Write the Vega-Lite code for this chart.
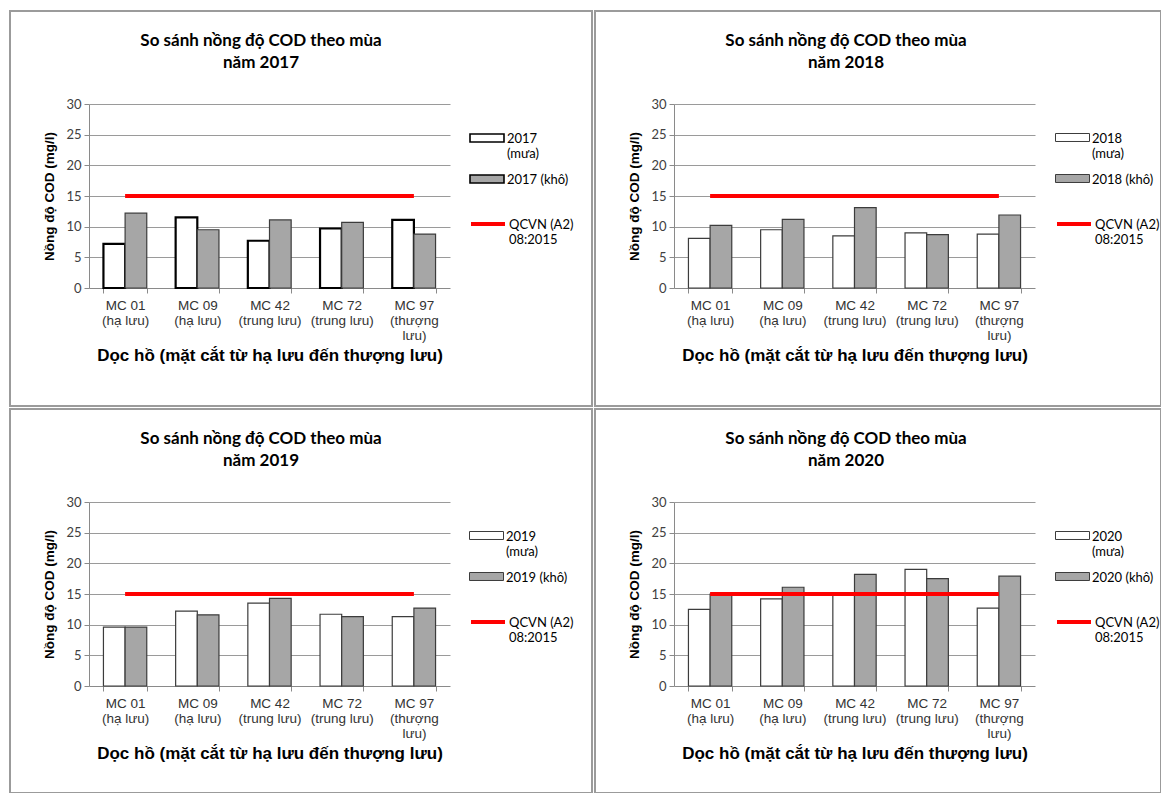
{
  "$schema": "https://vega.github.io/schema/vega-lite/v6.json",
  "background": "white",
  "padding": {"left": 9, "top": 10, "right": 0, "bottom": 0},
  "config": {
    "concat": {"spacing": 1},
    "title": {"font": "Lato", "fontSize": 17, "fontWeight": "bold", "color": "black", "anchor": "middle", "frame": "group", "offset": 0, "dx": -40, "dy": 65, "lineHeight": 22},
    "axisX": {
      "tickBand": "extent", "labelAngle": 0, "grid": false,
      "labelFont": "Liberation Sans", "labelFontSize": 13.5, "labelColor": "#333333", "labelLineHeight": 15, "labelPadding": 5,
      "tickColor": "#8a8a8a", "tickSize": 5, "domainColor": "#8a8a8a",
      "titleFont": "Liberation Sans", "titleFontSize": 17, "titleFontWeight": "bold", "titleColor": "black", "titlePadding": 6
    },
    "axisY": {
      "gridColor": "#9a9a9a", "domainColor": "#8a8a8a", "tickColor": "#8a8a8a", "tickSize": 5,
      "labelFont": "Lato", "labelFontSize": 13, "labelColor": "#404040", "labelPadding": 3,
      "titleFont": "Liberation Sans", "titleFontSize": 13.5, "titleFontWeight": "bold", "titleColor": "black", "titlePadding": 9
    },
    "legend": {
      "orient": "none", "title": null, "labelFont": "Lato", "labelFontSize": 13, "labelColor": "black", "labelLimit": 200, "labelBaseline": "alphabetic", "labelOffset": 2, "rowPadding": 0
    }
  },
  "datasets": {
    "cod": [
      {"year": 2017, "site": "MC 01 (hạ lưu)", "season": "mưa", "value": 7.2},
      {"year": 2017, "site": "MC 09 (hạ lưu)", "season": "mưa", "value": 11.5},
      {"year": 2017, "site": "MC 42 (trung lưu)", "season": "mưa", "value": 7.7},
      {"year": 2017, "site": "MC 72 (trung lưu)", "season": "mưa", "value": 9.7},
      {"year": 2017, "site": "MC 97 (thượng lưu)", "season": "mưa", "value": 11.1},
      {"year": 2017, "site": "MC 01 (hạ lưu)", "season": "khô", "value": 12.2},
      {"year": 2017, "site": "MC 09 (hạ lưu)", "season": "khô", "value": 9.5},
      {"year": 2017, "site": "MC 42 (trung lưu)", "season": "khô", "value": 11.1},
      {"year": 2017, "site": "MC 72 (trung lưu)", "season": "khô", "value": 10.7},
      {"year": 2017, "site": "MC 97 (thượng lưu)", "season": "khô", "value": 8.8},
      {"year": 2018, "site": "MC 01 (hạ lưu)", "season": "mưa", "value": 8.1},
      {"year": 2018, "site": "MC 09 (hạ lưu)", "season": "mưa", "value": 9.5},
      {"year": 2018, "site": "MC 42 (trung lưu)", "season": "mưa", "value": 8.5},
      {"year": 2018, "site": "MC 72 (trung lưu)", "season": "mưa", "value": 9.0},
      {"year": 2018, "site": "MC 97 (thượng lưu)", "season": "mưa", "value": 8.8},
      {"year": 2018, "site": "MC 01 (hạ lưu)", "season": "khô", "value": 10.2},
      {"year": 2018, "site": "MC 09 (hạ lưu)", "season": "khô", "value": 11.2},
      {"year": 2018, "site": "MC 42 (trung lưu)", "season": "khô", "value": 13.1},
      {"year": 2018, "site": "MC 72 (trung lưu)", "season": "khô", "value": 8.7},
      {"year": 2018, "site": "MC 97 (thượng lưu)", "season": "khô", "value": 11.9},
      {"year": 2019, "site": "MC 01 (hạ lưu)", "season": "mưa", "value": 9.6},
      {"year": 2019, "site": "MC 09 (hạ lưu)", "season": "mưa", "value": 12.2},
      {"year": 2019, "site": "MC 42 (trung lưu)", "season": "mưa", "value": 13.5},
      {"year": 2019, "site": "MC 72 (trung lưu)", "season": "mưa", "value": 11.7},
      {"year": 2019, "site": "MC 97 (thượng lưu)", "season": "mưa", "value": 11.3},
      {"year": 2019, "site": "MC 01 (hạ lưu)", "season": "khô", "value": 9.6},
      {"year": 2019, "site": "MC 09 (hạ lưu)", "season": "khô", "value": 11.6},
      {"year": 2019, "site": "MC 42 (trung lưu)", "season": "khô", "value": 14.3},
      {"year": 2019, "site": "MC 72 (trung lưu)", "season": "khô", "value": 11.3},
      {"year": 2019, "site": "MC 97 (thượng lưu)", "season": "khô", "value": 12.7},
      {"year": 2020, "site": "MC 01 (hạ lưu)", "season": "mưa", "value": 12.5},
      {"year": 2020, "site": "MC 09 (hạ lưu)", "season": "mưa", "value": 14.2},
      {"year": 2020, "site": "MC 42 (trung lưu)", "season": "mưa", "value": 15.0},
      {"year": 2020, "site": "MC 72 (trung lưu)", "season": "mưa", "value": 19.0},
      {"year": 2020, "site": "MC 97 (thượng lưu)", "season": "mưa", "value": 12.7},
      {"year": 2020, "site": "MC 01 (hạ lưu)", "season": "khô", "value": 15.0},
      {"year": 2020, "site": "MC 09 (hạ lưu)", "season": "khô", "value": 16.1},
      {"year": 2020, "site": "MC 42 (trung lưu)", "season": "khô", "value": 18.2},
      {"year": 2020, "site": "MC 72 (trung lưu)", "season": "khô", "value": 17.5},
      {"year": 2020, "site": "MC 97 (thượng lưu)", "season": "khô", "value": 17.9}
    ],
    "limit": [
      {"series": "QCVN (A2) 08:2015", "site": "MC 01 (hạ lưu)", "value": 15},
      {"series": "QCVN (A2) 08:2015", "site": "MC 09 (hạ lưu)", "value": 15},
      {"series": "QCVN (A2) 08:2015", "site": "MC 42 (trung lưu)", "value": 15},
      {"series": "QCVN (A2) 08:2015", "site": "MC 72 (trung lưu)", "value": 15},
      {"series": "QCVN (A2) 08:2015", "site": "MC 97 (thượng lưu)", "value": 15}
    ]
  },
  "resolve": {"scale": {"fill": "independent", "stroke": "independent"}, "legend": {"fill": "independent", "stroke": "independent"}},
  "vconcat": [
    {
      "resolve": {"scale": {"fill": "independent", "stroke": "independent"}, "legend": {"fill": "independent", "stroke": "independent"}},
      "hconcat": [
        {
          "width": 582, "height": 395,
          "view": {"fill": "white", "stroke": "#9b9b9b", "strokeWidth": 2},
          "title": {"text": ["So sánh nồng độ COD theo mùa", "năm 2017"]},
          "resolve": {"axis": {"y": "independent"}},
          "layer": [
            {
              "data": {"name": "cod"},
              "transform": [{"filter": "datum.year == 2017"}],
              "mark": {"type": "bar"},
              "encoding": {
                "x": {"field": "site", "type": "nominal", "sort": null,
                  "scale": {"domain": ["MC 01 (hạ lưu)", "MC 09 (hạ lưu)", "MC 42 (trung lưu)", "MC 72 (trung lưu)", "MC 97 (thượng lưu)"], "range": [79, 440], "paddingInner": 0.4, "paddingOuter": 0.2},
                  "axis": {"title": "Dọc hồ (mặt cắt từ hạ lưu đến thượng lưu)", "offset": -118,
                    "labelExpr": "datum.label == 'MC 97 (thượng lưu)' ? ['MC 97', '(thượng', 'lưu)'] : [substring(datum.label, 0, 5), substring(datum.label, 6)]"}},
                "xOffset": {"field": "season", "type": "nominal", "sort": ["mưa", "khô"], "scale": {"paddingInner": 0}},
                "y": {"field": "value", "type": "quantitative", "scale": {"domain": [0, 30], "range": [277, 93], "nice": false},
                  "axis": {"title": "Nồng độ COD (mg/l)", "orient": "left", "offset": -79, "grid": false, "values": [0, 5, 10, 15, 20, 25, 30]}},
                "fill": {"field": "season", "type": "nominal", "sort": ["mưa", "khô"],
                  "scale": {"domain": ["mưa", "khô"], "range": ["white", "#a6a6a6"]},
                  "legend": {"legendX": 459, "legendY": 109, "symbolType": "M-1,-0.235H1V0.235H-1Z", "symbolSize": 1156, "symbolStrokeColor": "black", "symbolStrokeWidth": 1.6,
                    "labelExpr": "datum.value == 'mưa' ? ['2017', '(mưa)'] : '2017 (khô)'",
                    "encode": {"labels": {"update": {"dy": {"value": 5}}}}}},
                "stroke": {"condition": {"test": "datum.season == 'mưa'", "value": "black"}, "value": "#3c3c3c"},
                "strokeWidth": {"condition": {"test": "datum.season == 'mưa'", "value": 2.2}, "value": 1.2}
              }
            },
            {
              "data": {"name": "limit"},
              "mark": {"type": "line", "strokeWidth": 3.8},
              "encoding": {
                "x": {"field": "site", "type": "nominal", "sort": null},
                "y": {"field": "value", "type": "quantitative",
                  "axis": {"title": null, "orient": "left", "offset": 0, "grid": true, "labels": false, "ticks": false, "domain": false, "values": [5, 10, 15, 20, 25, 30]}},
                "stroke": {"field": "series", "type": "nominal", "scale": {"range": ["#ff0000"]},
                  "legend": {"legendX": 459, "legendY": 194, "symbolType": "stroke", "symbolSize": 1156, "symbolStrokeWidth": 3.8,
                    "labelExpr": "['QCVN (A2)', '08:2015']",
                    "encode": {"labels": {"update": {"dy": {"value": 5}}}}}}
              }
            }
          ]
        },
        {
          "width": 566, "height": 395,
          "view": {"fill": "white", "stroke": "#9b9b9b", "strokeWidth": 2},
          "title": {"text": ["So sánh nồng độ COD theo mùa", "năm 2018"], "dx": -32},
          "resolve": {"axis": {"y": "independent"}},
          "layer": [
            {
              "data": {"name": "cod"},
              "transform": [{"filter": "datum.year == 2018"}],
              "mark": {"type": "bar"},
              "encoding": {
                "x": {"field": "site", "type": "nominal", "sort": null,
                  "scale": {"domain": ["MC 01 (hạ lưu)", "MC 09 (hạ lưu)", "MC 42 (trung lưu)", "MC 72 (trung lưu)", "MC 97 (thượng lưu)"], "range": [79, 440], "paddingInner": 0.4, "paddingOuter": 0.2},
                  "axis": {"title": "Dọc hồ (mặt cắt từ hạ lưu đến thượng lưu)", "offset": -118,
                    "labelExpr": "datum.label == 'MC 97 (thượng lưu)' ? ['MC 97', '(thượng', 'lưu)'] : [substring(datum.label, 0, 5), substring(datum.label, 6)]"}},
                "xOffset": {"field": "season", "type": "nominal", "sort": ["mưa", "khô"], "scale": {"paddingInner": 0}},
                "y": {"field": "value", "type": "quantitative", "scale": {"domain": [0, 30], "range": [277, 93], "nice": false},
                  "axis": {"title": "Nồng độ COD (mg/l)", "orient": "left", "offset": -79, "grid": false, "values": [0, 5, 10, 15, 20, 25, 30]}},
                "fill": {"field": "season", "type": "nominal", "sort": ["mưa", "khô"],
                  "scale": {"domain": ["mưa", "khô"], "range": ["white", "#a6a6a6"]},
                  "legend": {"legendX": 460, "legendY": 109, "symbolType": "M-1,-0.235H1V0.235H-1Z", "symbolSize": 1156, "symbolStrokeColor": "#3c3c3c", "symbolStrokeWidth": 1,
                    "labelExpr": "datum.value == 'mưa' ? ['2018', '(mưa)'] : '2018 (khô)'",
                    "encode": {"labels": {"update": {"dy": {"value": 5}}}}}},
                "stroke": {"value": "#3c3c3c"},
                "strokeWidth": {"value": 1.2}
              }
            },
            {
              "data": {"name": "limit"},
              "mark": {"type": "line", "strokeWidth": 3.8},
              "encoding": {
                "x": {"field": "site", "type": "nominal", "sort": null},
                "y": {"field": "value", "type": "quantitative",
                  "axis": {"title": null, "orient": "left", "offset": 0, "grid": true, "labels": false, "ticks": false, "domain": false, "values": [5, 10, 15, 20, 25, 30]}},
                "stroke": {"field": "series", "type": "nominal", "scale": {"range": ["#ff0000"]},
                  "legend": {"legendX": 460, "legendY": 194, "symbolType": "stroke", "symbolSize": 1156, "symbolStrokeWidth": 3.8,
                    "labelExpr": "['QCVN (A2)', '08:2015']",
                    "encode": {"labels": {"update": {"dy": {"value": 5}}}}}}
              }
            }
          ]
        }
      ]
    },
    {
      "resolve": {"scale": {"fill": "independent", "stroke": "independent"}, "legend": {"fill": "independent", "stroke": "independent"}},
      "hconcat": [
        {
          "width": 582, "height": 384,
          "view": {"fill": "white", "stroke": "#9b9b9b", "strokeWidth": 2},
          "title": {"text": ["So sánh nồng độ COD theo mùa", "năm 2019"]},
          "resolve": {"axis": {"y": "independent"}},
          "layer": [
            {
              "data": {"name": "cod"},
              "transform": [{"filter": "datum.year == 2019"}],
              "mark": {"type": "bar"},
              "encoding": {
                "x": {"field": "site", "type": "nominal", "sort": null,
                  "scale": {"domain": ["MC 01 (hạ lưu)", "MC 09 (hạ lưu)", "MC 42 (trung lưu)", "MC 72 (trung lưu)", "MC 97 (thượng lưu)"], "range": [79, 440], "paddingInner": 0.4, "paddingOuter": 0.2},
                  "axis": {"title": "Dọc hồ (mặt cắt từ hạ lưu đến thượng lưu)", "offset": -107,
                    "labelExpr": "datum.label == 'MC 97 (thượng lưu)' ? ['MC 97', '(thượng', 'lưu)'] : [substring(datum.label, 0, 5), substring(datum.label, 6)]"}},
                "xOffset": {"field": "season", "type": "nominal", "sort": ["mưa", "khô"], "scale": {"paddingInner": 0}},
                "y": {"field": "value", "type": "quantitative", "scale": {"domain": [0, 30], "range": [277, 93], "nice": false},
                  "axis": {"title": "Nồng độ COD (mg/l)", "orient": "left", "offset": -79, "grid": false, "values": [0, 5, 10, 15, 20, 25, 30]}},
                "fill": {"field": "season", "type": "nominal", "sort": ["mưa", "khô"],
                  "scale": {"domain": ["mưa", "khô"], "range": ["white", "#a6a6a6"]},
                  "legend": {"legendX": 459, "legendY": 109, "symbolType": "M-1,-0.235H1V0.235H-1Z", "symbolSize": 1156, "symbolStrokeColor": "#3c3c3c", "symbolStrokeWidth": 1,
                    "labelExpr": "datum.value == 'mưa' ? ['2019', '(mưa)'] : '2019 (khô)'",
                    "encode": {"labels": {"update": {"dy": {"value": 5}}}}}},
                "stroke": {"value": "#3c3c3c"},
                "strokeWidth": {"value": 1.2}
              }
            },
            {
              "data": {"name": "limit"},
              "mark": {"type": "line", "strokeWidth": 3.8},
              "encoding": {
                "x": {"field": "site", "type": "nominal", "sort": null},
                "y": {"field": "value", "type": "quantitative",
                  "axis": {"title": null, "orient": "left", "offset": 0, "grid": true, "labels": false, "ticks": false, "domain": false, "values": [5, 10, 15, 20, 25, 30]}},
                "stroke": {"field": "series", "type": "nominal", "scale": {"range": ["#ff0000"]},
                  "legend": {"legendX": 459, "legendY": 194, "symbolType": "stroke", "symbolSize": 1156, "symbolStrokeWidth": 3.8,
                    "labelExpr": "['QCVN (A2)', '08:2015']",
                    "encode": {"labels": {"update": {"dy": {"value": 5}}}}}}
              }
            }
          ]
        },
        {
          "width": 566, "height": 384,
          "view": {"fill": "white", "stroke": "#9b9b9b", "strokeWidth": 2},
          "title": {"text": ["So sánh nồng độ COD theo mùa", "năm 2020"], "dx": -32},
          "resolve": {"axis": {"y": "independent"}},
          "layer": [
            {
              "data": {"name": "cod"},
              "transform": [{"filter": "datum.year == 2020"}],
              "mark": {"type": "bar"},
              "encoding": {
                "x": {"field": "site", "type": "nominal", "sort": null,
                  "scale": {"domain": ["MC 01 (hạ lưu)", "MC 09 (hạ lưu)", "MC 42 (trung lưu)", "MC 72 (trung lưu)", "MC 97 (thượng lưu)"], "range": [79, 440], "paddingInner": 0.4, "paddingOuter": 0.2},
                  "axis": {"title": "Dọc hồ (mặt cắt từ hạ lưu đến thượng lưu)", "offset": -107,
                    "labelExpr": "datum.label == 'MC 97 (thượng lưu)' ? ['MC 97', '(thượng', 'lưu)'] : [substring(datum.label, 0, 5), substring(datum.label, 6)]"}},
                "xOffset": {"field": "season", "type": "nominal", "sort": ["mưa", "khô"], "scale": {"paddingInner": 0}},
                "y": {"field": "value", "type": "quantitative", "scale": {"domain": [0, 30], "range": [277, 93], "nice": false},
                  "axis": {"title": "Nồng độ COD (mg/l)", "orient": "left", "offset": -79, "grid": false, "values": [0, 5, 10, 15, 20, 25, 30]}},
                "fill": {"field": "season", "type": "nominal", "sort": ["mưa", "khô"],
                  "scale": {"domain": ["mưa", "khô"], "range": ["white", "#a6a6a6"]},
                  "legend": {"legendX": 460, "legendY": 109, "symbolType": "M-1,-0.235H1V0.235H-1Z", "symbolSize": 1156, "symbolStrokeColor": "#3c3c3c", "symbolStrokeWidth": 1,
                    "labelExpr": "datum.value == 'mưa' ? ['2020', '(mưa)'] : '2020 (khô)'",
                    "encode": {"labels": {"update": {"dy": {"value": 5}}}}}},
                "stroke": {"value": "#3c3c3c"},
                "strokeWidth": {"value": 1.2}
              }
            },
            {
              "data": {"name": "limit"},
              "mark": {"type": "line", "strokeWidth": 3.8},
              "encoding": {
                "x": {"field": "site", "type": "nominal", "sort": null},
                "y": {"field": "value", "type": "quantitative",
                  "axis": {"title": null, "orient": "left", "offset": 0, "grid": true, "labels": false, "ticks": false, "domain": false, "values": [5, 10, 15, 20, 25, 30]}},
                "stroke": {"field": "series", "type": "nominal", "scale": {"range": ["#ff0000"]},
                  "legend": {"legendX": 460, "legendY": 194, "symbolType": "stroke", "symbolSize": 1156, "symbolStrokeWidth": 3.8,
                    "labelExpr": "['QCVN (A2)', '08:2015']",
                    "encode": {"labels": {"update": {"dy": {"value": 5}}}}}}
              }
            }
          ]
        }
      ]
    }
  ]
}
